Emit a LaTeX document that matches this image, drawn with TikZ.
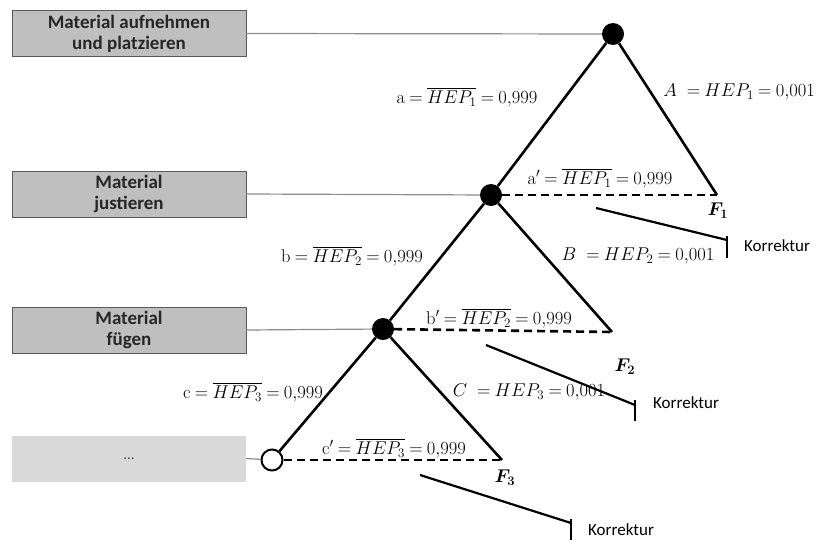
\documentclass[tikz,border=0pt]{standalone}
\usepackage{fix-cm}
\usepackage{amsmath}
\usepackage{fontspec}
\newfontfamily\carlito{Carlito}
\newcommand\myLabFont{\fontsize{18.5}{22}\selectfont\thickmuskip=4.2mu\relax}
\begin{document}
\begin{tikzpicture}[x=1pt,y=-1pt,
  stepbox/.style={draw=gray!70!black, line width=0.8pt, fill=black!25, minimum width=234pt, minimum height=46pt, inner sep=0pt, align=center, font=\carlito\fontsize{19}{21}\selectfont\bfseries, text=black!85},
  lightbox/.style={fill=black!15, minimum width=234pt, minimum height=46pt, inner sep=0pt, font=\carlito\fontsize{15}{16}\selectfont, text=black!70},
  dot/.style={circle, fill=black, minimum size=22pt, inner sep=0pt},
  odot/.style={circle, draw=black, line width=2pt, fill=white, minimum size=21pt, inner sep=0pt},
  link/.style={draw=black!45, line width=1.2pt},
  branch/.style={draw=black, line width=2.6pt},
  dbranch/.style={draw=black, line width=2.6pt, dash pattern=on 8pt off 5pt},
  corr/.style={draw=black, line width=2.2pt},
  lab/.style={font=\myLabFont, inner sep=0pt},
  klab/.style={font=\carlito\fontsize{17}{19}\selectfont, inner sep=0pt, anchor=west}
]
\path[use as bounding box] (0,0) rectangle (816,541);

% boxes
\node[stepbox] (b1) at (129,33.5) {Material aufnehmen\\und platzieren};
\node[stepbox] (b2) at (129,194) {Material\\justieren};
\node[stepbox] (b3) at (129,330) {Material\\fügen};
\node[lightbox] (b4) at (129,458.5) {...};

% nodes
\node[dot] (n1) at (613,34) {};
\node[dot] (n2) at (491,195) {};
\node[dot] (n3) at (383,329) {};
\node[odot] (n4) at (272,460) {};

\coordinate (e1) at (717,195);
\coordinate (e2) at (612,332);
\coordinate (e3) at (502,460);

% links
\draw[link] (b1.east) -- (n1);
\draw[link] (b2.east) -- (n2);
\draw[link] (b3.east) -- (n3);
\draw[link] (b4.east) -- (n4);

% branches
\draw[branch] (n1) -- (n2);
\draw[branch] (n1) -- (e1);
\draw[dbranch] (n2) -- (e1);
\draw[branch] (n2) -- (n3);
\draw[branch] (n2) -- (e2);
\draw[dbranch] (n3) -- (e2);
\draw[branch] (n3) -- (n4);
\draw[branch] (n3) -- (e3);
\draw[dbranch] (n4) -- (e3);

% corrections
\coordinate (c1s) at (596,208); \coordinate (c1e) at (727,240);
\coordinate (c1t) at (727,236); \coordinate (c1b) at (727,258);
\coordinate (c2s) at (486,345); \coordinate (c2e) at (635,405);
\coordinate (c2t) at (635,400); \coordinate (c2b) at (635,421);
\coordinate (c3s) at (420,475); \coordinate (c3e) at (571,523);
\coordinate (c3t) at (571,519); \coordinate (c3b) at (571,540);
\draw[corr] (c1s) -- (c1e); \draw[corr] (c1t) -- (c1b);
\draw[corr] (c2s) -- (c2e); \draw[corr] (c2t) -- (c2b);
\draw[corr] (c3s) -- (c3e); \draw[corr] (c3t) -- (c3b);
\node[klab] (k1) at (744,246) {Korrektur};
\node[klab] (k2) at (653,403) {Korrektur};
\node[klab] (k3) at (588,530) {Korrektur};

% labels
\node[lab] (la) at (467,97) {$\mathrm{a} = \overline{HEP_1} = 0{,}999$};
\node[lab, anchor=east] (lA) at (815,92) {$A\ = HEP_1 = 0{,}001$};
\node[lab] (lap) at (600,178) {$\mathrm{a}' = \overline{HEP_1} = 0{,}999$};
\node[lab] (lb) at (352,256) {$\mathrm{b} = \overline{HEP_2} = 0{,}999$};
\node[lab] (lB) at (638,256) {$B\ = HEP_2 = 0{,}001$};
\node[lab] (lbp) at (499,318) {$\mathrm{b}' = \overline{HEP_2} = 0{,}999$};
\node[lab] (lc) at (253,392) {$\mathrm{c} = \overline{HEP_3} = 0{,}999$};
\node[lab] (lC) at (529,392) {$C\ = HEP_3 = 0{,}001$};
\node[lab] (lcp) at (394,448) {$\mathrm{c}' = \overline{HEP_3} = 0{,}999$};

\node[lab] (f1) at (718,211) {$\boldsymbol{F_1}$};
\node[lab] (f2) at (625,367) {$\boldsymbol{F_2}$};
\node[lab] (f3) at (505,478) {$\boldsymbol{F_3}$};
\end{tikzpicture}
\end{document}
